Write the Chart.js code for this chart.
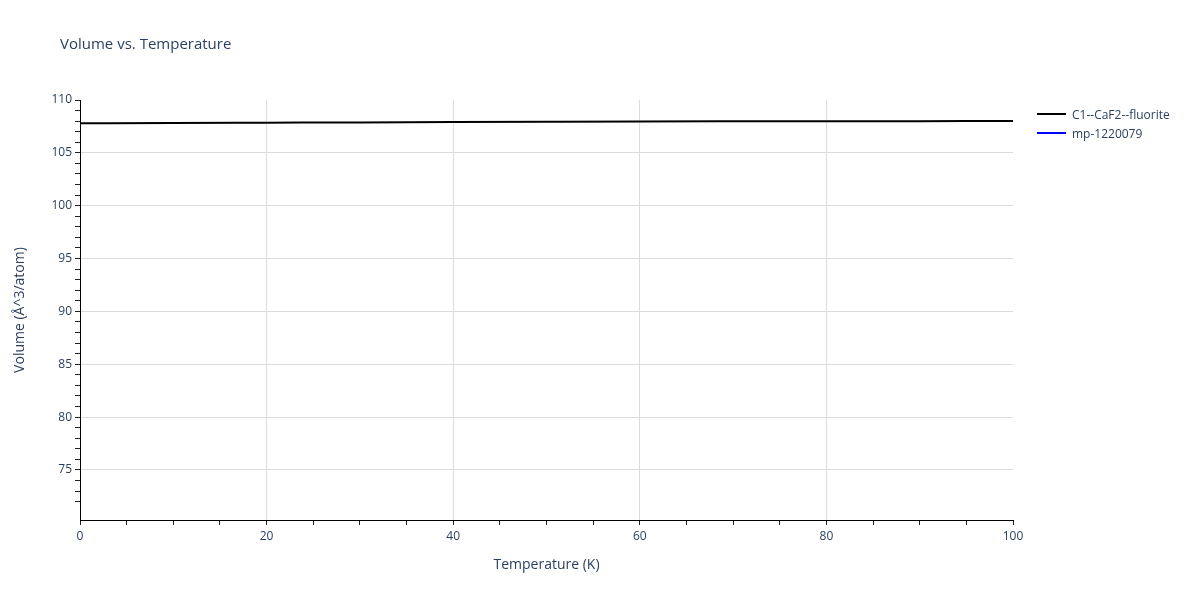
<!DOCTYPE html>
<html lang="en">
<head>
    <meta charset="UTF-8">
    <title>Volume vs. Temperature</title>
    <script src="https://cdn.jsdelivr.net/npm/chart.js@4.4.0/dist/chart.umd.min.js"></script>
    <style>
        html, body { margin: 0; padding: 0; background: #fff; }
        #wrap { width: 1200px; height: 600px; }
    </style>
</head>
<body>
    <div id="wrap"><canvas id="graphique" width="1200" height="600"></canvas></div>

    <script>
        // data
        const temperatures = [0, 10, 20, 30, 40, 50, 60, 70, 80, 90, 100];
        const volumeFluorite = [107.80, 107.82, 107.85, 107.88, 107.92, 107.95, 107.97, 107.98, 107.99, 108.00, 108.01];
        const volumeMp = [];
        const seriesNames = ["C1--CaF2--fluorite", "mp-1220079"];
        const seriesColors = ["#000000", "#0000ff"];

        const xTickLabels = [0, 20, 40, 60, 80, 100];
        const yTickLabels = [75, 80, 85, 90, 95, 100, 105, 110];

        const fontFamily = '"Open Sans", "DejaVu Sans", sans-serif';
        const textColor = "#2a3f5f";
        const gridColor = "#dcdcdc";

        // title and legend, plotly style
        const decorations = {
            id: "decorations",
            afterDraw(chart) {
                const ctx = chart.ctx;
                ctx.save();
                ctx.fillStyle = textColor;
                ctx.font = "15px " + fontFamily;
                ctx.textBaseline = "middle";
                ctx.textAlign = "left";
                ctx.fillText("Volume vs. Temperature", 60, 45);

                ctx.font = "12px " + fontFamily;
                seriesNames.forEach((name, i) => {
                    const y = 114 + i * 19;
                    ctx.strokeStyle = seriesColors[i];
                    ctx.lineWidth = 2;
                    ctx.beginPath();
                    ctx.moveTo(1037, y);
                    ctx.lineTo(1066, y);
                    ctx.stroke();
                    ctx.fillStyle = textColor;
                    ctx.fillText(name, 1072, y + 1.5);
                });
                ctx.restore();
            }
        };

        const ctx = document.getElementById("graphique").getContext("2d");
        new Chart(ctx, {
            type: "line",
            data: {
                datasets: [
                    {
                        label: seriesNames[0],
                        data: temperatures.map((t, i) => ({ x: t, y: volumeFluorite[i] })),
                        borderColor: seriesColors[0],
                        borderWidth: 2,
                        pointRadius: 0,
                        fill: false,
                        cubicInterpolationMode: "monotone"
                    },
                    {
                        label: seriesNames[1],
                        data: volumeMp,
                        borderColor: seriesColors[1],
                        borderWidth: 2,
                        pointRadius: 0,
                        fill: false
                    }
                ]
            },
            options: {
                responsive: false,
                animation: false,
                layout: { padding: { top: 100, right: 187, left: 0, bottom: 0 } },
                plugins: {
                    legend: { display: false },
                    tooltip: { enabled: false }
                },
                scales: {
                    x: {
                        type: "linear",
                        min: 0,
                        max: 100,
                        afterFit(scale) { scale.height = 80; },
                        ticks: {
                            stepSize: 5,
                            autoSkip: false,
                            maxRotation: 0,
                            color: textColor,
                            font: { family: fontFamily, size: 12 },
                            padding: 4,
                            callback: v => xTickLabels.includes(v) ? String(v) : ""
                        },
                        grid: {
                            color: c => (c.tick && c.tick.value % 20 === 0 && c.tick.value > 0 && c.tick.value < 100) ? gridColor : "rgba(0,0,0,0)",
                            tickColor: "#222",
                            tickLength: 5,
                            drawOnChartArea: true
                        },
                        border: { color: "#000", width: 1 },
                        title: {
                            display: true,
                            text: "Temperature (K)",
                            color: textColor,
                            font: { family: fontFamily, size: 14 },
                            padding: { top: 0, bottom: 27 }
                        }
                    },
                    y: {
                        type: "linear",
                        min: 70.27,
                        max: 110,
                        afterFit(scale) { scale.width = 80; },
                        afterBuildTicks(scale) {
                            scale.ticks = scale.ticks.filter(t => Math.abs(t.value - Math.round(t.value)) < 1e-6);
                        },
                        ticks: {
                            stepSize: 1,
                            autoSkip: false,
                            color: textColor,
                            font: { family: fontFamily, size: 12 },
                            padding: 3,
                            callback: v => yTickLabels.includes(v) ? String(v) : ""
                        },
                        grid: {
                            color: c => (c.tick && c.tick.value % 5 === 0 && c.tick.value < 110) ? gridColor : "rgba(0,0,0,0)",
                            tickColor: "#222",
                            tickLength: 5
                        },
                        border: { color: "#000", width: 1 },
                        title: {
                            display: true,
                            text: "Volume (Å^3/atom)",
                            color: textColor,
                            font: { family: fontFamily, size: 14 },
                            padding: { top: 12, bottom: 0 }
                        }
                    }
                }
            },
            plugins: [decorations]
        });
    </script>
</body>
</html>
